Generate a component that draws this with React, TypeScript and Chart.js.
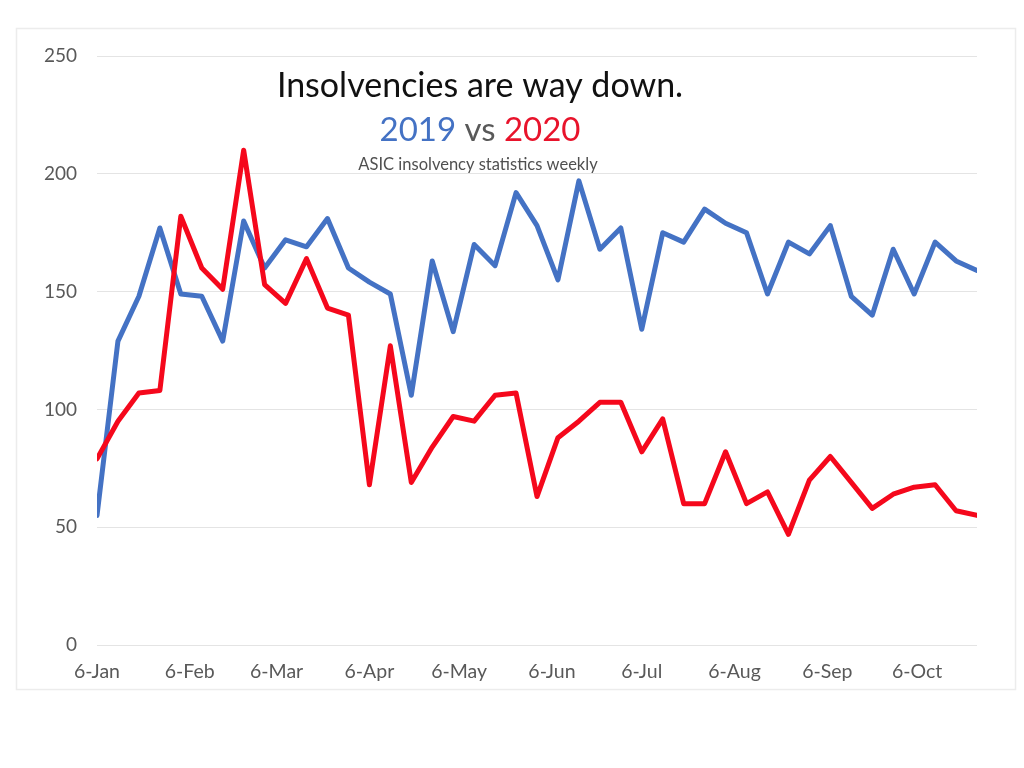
import React, { useEffect, useRef } from "react";
import { Chart, registerables } from "chart.js";

Chart.register(...registerables);

// Week-commencing dates start at 6 January; one value per week.
const startDate = "2020-01-06";
const insolvencies2019 = [
  55, 129, 148, 177, 149, 148, 129, 180, 160, 172, 169, 181, 160, 154, 149, 106,
  163, 133, 170, 161, 192, 178, 155, 197, 168, 177, 134, 175, 171, 185, 179, 175,
  149, 171, 166, 178, 148, 140, 168, 149, 171, 163, 159,
];
const insolvencies2020 = [
  79, 95, 107, 108, 182, 160, 151, 210, 153, 145, 164, 143, 140, 68, 127, 69,
  84, 97, 95, 106, 107, 63, 88, 95, 103, 103, 82, 96, 60, 60, 82, 60,
  65, 47, 70, 80, 69, 58, 64, 67, 68, 57, 55,
];
const tickDates = [
  "2020-01-06", "2020-02-06", "2020-03-06", "2020-04-06", "2020-05-06",
  "2020-06-06", "2020-07-06", "2020-08-06", "2020-09-06", "2020-10-06",
];
const tickLabels = [
  "6-Jan", "6-Feb", "6-Mar", "6-Apr", "6-May", "6-Jun", "6-Jul", "6-Aug", "6-Sep", "6-Oct",
];
const yTicks = [0, 50, 100, 150, 200, 250];

const DAY = 86400000;
const t0 = Date.parse(startDate);
const tickDays = tickDates.map((d) => Math.round((Date.parse(d) - t0) / DAY));

const BLUE = "#4472C4";
const RED = "#F5081C";
const FONT = "Lato, 'Open Sans', sans-serif";

const decorPlugin = {
  id: "decor",
  beforeDraw(chart: any) {
    const ctx = chart.ctx;
    ctx.save();
    ctx.fillStyle = "#ffffff";
    ctx.fillRect(0, 0, chart.width, chart.height);
    ctx.strokeStyle = "#ECECEC";
    ctx.lineWidth = 1.5;
    ctx.strokeRect(16.5, 28.5, 999, 661);
    ctx.restore();
  },
  afterDraw(chart: any) {
    const ctx = chart.ctx;
    const cx = 480;
    ctx.save();
    ctx.textBaseline = "middle";
    ctx.textAlign = "center";
    ctx.fillStyle = "#111111";
    ctx.font = `34px ${FONT}`;
    ctx.fillText("Insolvencies are way down.", cx, 86);

    ctx.font = `33px ${FONT}`;
    const p1 = "2019";
    const p2 = " vs ";
    const p3 = "2020";
    const w1 = ctx.measureText(p1).width;
    const w2 = ctx.measureText(p2).width;
    const w3 = ctx.measureText(p3).width;
    let x = cx - (w1 + w2 + w3) / 2;
    ctx.textAlign = "left";
    ctx.fillStyle = BLUE;
    ctx.fillText(p1, x, 130);
    x += w1;
    ctx.fillStyle = "#595959";
    ctx.fillText(p2, x, 130);
    x += w2;
    ctx.fillStyle = "#E8132B";
    ctx.fillText(p3, x, 130);

    ctx.textAlign = "center";
    ctx.fillStyle = "#505050";
    ctx.font = `16.5px ${FONT}`;
    ctx.fillText("ASIC insolvency statistics weekly", 478, 165);
    ctx.restore();
  },
};

export default function App() {
  const ref = useRef<HTMLCanvasElement | null>(null);

  useEffect(() => {
    if (!ref.current) return;
    const xs = insolvencies2019.map((_, i) => i * 7);
    const chart = new Chart(ref.current, {
      type: "line",
      data: {
        datasets: [
          {
            label: "2020",
            data: insolvencies2020.map((v, i) => ({ x: xs[i], y: v })),
            borderColor: RED,
            backgroundColor: RED,
            borderWidth: 5,
            pointRadius: 0,
            tension: 0,
            borderJoinStyle: "round",
            borderCapStyle: "round",
          },
          {
            label: "2019",
            data: insolvencies2019.map((v, i) => ({ x: xs[i], y: v })),
            borderColor: BLUE,
            backgroundColor: BLUE,
            borderWidth: 5,
            pointRadius: 0,
            tension: 0,
            borderJoinStyle: "round",
            borderCapStyle: "round",
          },
        ],
      },
      options: {
        responsive: false,
        animation: false,
        layout: { padding: { left: 0, right: 47, top: 56, bottom: 0 } },
        plugins: {
          legend: { display: false },
          title: { display: false },
          tooltip: { enabled: false },
        },
        scales: {
          x: {
            type: "linear",
            min: 0,
            max: xs[xs.length - 1],
            grid: { display: false, drawTicks: false },
            border: { display: false },
            afterBuildTicks: (scale: any) => {
              scale.ticks = tickDays.map((v) => ({ value: v }));
            },
            afterFit: (scale: any) => {
              scale.height = 123;
            },
            ticks: {
              autoSkip: false,
              maxRotation: 0,
              padding: 15,
              color: "#595959",
              font: { family: FONT, size: 19.5 },
              callback: (value: any) => {
                const idx = tickDays.indexOf(Number(value));
                return idx >= 0 ? tickLabels[idx] : "";
              },
            },
          },
          y: {
            min: 0,
            max: 250,
            afterBuildTicks: (scale: any) => {
              scale.ticks = yTicks.map((v) => ({ value: v }));
            },
            afterFit: (scale: any) => {
              scale.width = 97;
            },
            grid: { color: "#E4E4E4", lineWidth: 1, drawTicks: false },
            border: { display: false },
            ticks: {
              padding: 20,
              color: "#595959",
              font: { family: FONT, size: 19 },
            },
          },
        },
      },
      plugins: [decorPlugin],
    });
    return () => chart.destroy();
  }, []);

  return (
    <div style={{ position: "fixed", left: 0, top: 0, width: 1024, height: 768, background: "#fff" }}>
      <canvas ref={ref} width={1024} height={768} style={{ display: "block" }} />
    </div>
  );
}
